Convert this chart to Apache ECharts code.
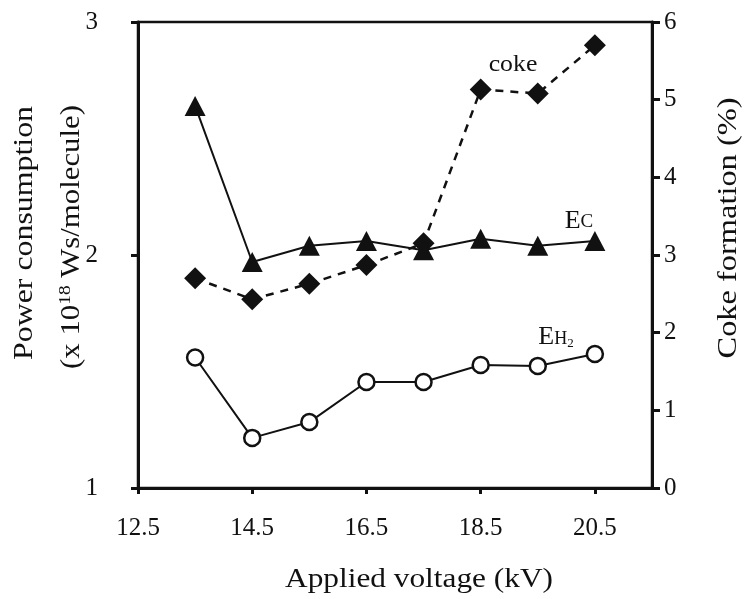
<!DOCTYPE html>
<html>
<head>
	<title>Power consumption vs applied voltage</title>
	<meta http-equiv="Content-Type" content="text/html;charset=UTF-8">
	<style>
		html, body { margin: 0; padding: 0; background: #fff; }
	</style>
</head>
<body>

	<div id="chart" style="width:744px;height:599px;"></div>

	<script type="text/javascript" src="https://cdn.jsdelivr.net/npm/echarts@6/dist/echarts.min.js"></script>

	<script type="text/javascript">

		// applied voltage (kV)
		var voltage = [13.5, 14.5, 15.5, 16.5, 17.5, 18.5, 19.5, 20.5]
		// power consumption, x 10^18 Ws/molecule (left axis)
		var ecValues = [2.64, 1.97, 2.04, 2.06, 2.02, 2.07, 2.04, 2.06]
		var eh2Values = [1.56, 1.215, 1.283, 1.455, 1.455, 1.528, 1.524, 1.575]
		// coke formation, % (right axis)
		var cokeValues = [2.70, 2.43, 2.63, 2.87, 3.15, 5.13, 5.08, 5.70]
		var xTicks = [12.5, 14.5, 16.5, 18.5, 20.5]

		var serif = 'Liberation Serif'
		var ink = '#111'

		function pairs(vals) {
			var out = []
			for (var i = 0; i < voltage.length; i++) {
				out.push([voltage[i], vals[i]])
			}
			return out
		}

		var chart = echarts.init(document.getElementById('chart'))

		var option = {
			backgroundColor: '#fff',
			animation: false,
			grid: {
				left: 138,
				right: 92,
				top: 22,
				bottom: 111,
				show: true,
				borderColor: ink,
				borderWidth: 2.5
			},
			xAxis: {
				type: 'value',
				min: 12.5,
				max: 21.5,
				splitLine: { show: false },
				axisLine: { lineStyle: { color: ink, width: 3 } },
				axisTick: { customValues: xTicks, length: 6, lineStyle: { color: ink, width: 3 } },
				axisLabel: {
					customValues: xTicks,
					margin: 28,
					color: ink,
					fontFamily: serif,
					fontSize: 25,
					formatter: function (v) { return v.toFixed(1) }
				}
			},
			yAxis: [{
				type: 'value',
				min: 1,
				max: 3,
				interval: 1,
				splitLine: { show: false },
				axisLine: { show: true, lineStyle: { color: ink, width: 3 } },
				axisTick: { show: true, length: 7, lineStyle: { color: ink, width: 3 } },
				axisLabel: { margin: 40, color: ink, fontFamily: serif, fontSize: 25 }
			}, {
				type: 'value',
				min: 0,
				max: 6,
				interval: 1,
				position: 'right',
				splitLine: { show: false },
				axisLine: { show: true, lineStyle: { color: ink, width: 3 } },
				axisTick: { show: true, length: 8, lineStyle: { color: ink, width: 3 } },
				axisLabel: { margin: 12, color: ink, fontFamily: serif, fontSize: 25 }
			}],
			series: [{
				name: 'coke',
				type: 'line',
				yAxisIndex: 1,
				data: pairs(cokeValues),
				symbol: 'diamond',
				symbolSize: 22,
				itemStyle: { color: ink },
				lineStyle: { color: ink, width: 2.5, type: [8, 7] },
				z: 3
			}, {
				name: 'Ec',
				type: 'line',
				data: pairs(ecValues),
				symbol: 'triangle',
				symbolSize: [21, 20],
				itemStyle: { color: ink },
				lineStyle: { color: ink, width: 2 },
				z: 4
			}, {
				name: 'EH2',
				type: 'line',
				data: pairs(eh2Values),
				symbol: 'circle',
				symbolSize: 16,
				itemStyle: { color: '#fff', borderColor: ink, borderWidth: 2.5 },
				lineStyle: { color: ink, width: 2 },
				z: 4
			}],
			graphic: [{
				type: 'text',
				x: 419, y: 580,
				scaleX: 1.16,
				style: {
					text: 'Applied voltage (kV)',
					fontFamily: serif,
					fontSize: 27,
					fill: ink,
					align: 'center',
					verticalAlign: 'middle'
				}
			}, {
				type: 'text',
				x: 25, y: 233,
				rotation: Math.PI / 2,
				scaleX: 1.18,
				style: {
					text: 'Power consumption',
					fontFamily: serif,
					fontSize: 27,
					fill: ink,
					align: 'center',
					verticalAlign: 'middle'
				}
			}, {
				type: 'text',
				x: 72, y: 237,
				rotation: Math.PI / 2,
				scaleX: 1.14,
				style: {
					text: '(x 10{sup|18} Ws/molecule)',
					fill: ink,
					align: 'center',
					verticalAlign: 'middle',
					fontFamily: serif,
					fontSize: 27,
					rich: {
						sup: { fontFamily: serif, fontSize: 17, fill: ink, padding: [0, 0, 12, 0] }
					}
				}
			}, {
				type: 'text',
				x: 729, y: 228,
				rotation: Math.PI / 2,
				scaleX: 1.2,
				style: {
					text: 'Coke formation (%)',
					fontFamily: serif,
					fontSize: 27,
					fill: ink,
					align: 'center',
					verticalAlign: 'middle'
				}
			}, {
				type: 'text',
				x: 513, y: 65,
				scaleX: 1.12,
				style: {
					text: 'coke',
					fontFamily: serif,
					fontSize: 23,
					fill: ink,
					align: 'center',
					verticalAlign: 'middle'
				}
			}, {
				type: 'text',
				x: 579, y: 221,
				style: {
					text: '{e|E}{c|C}',
					fill: ink,
					align: 'center',
					verticalAlign: 'middle',
					rich: {
						e: { fontFamily: serif, fontSize: 26, fill: ink, verticalAlign: 'bottom' },
						c: { fontFamily: serif, fontSize: 19, fill: ink, verticalAlign: 'bottom', padding: [0, 0, 2, 0] }
					}
				}
			}, {
				type: 'text',
				x: 556, y: 337,
				style: {
					text: '{e|E}{h|H}{n|2}',
					fill: ink,
					align: 'center',
					verticalAlign: 'middle',
					rich: {
						e: { fontFamily: serif, fontSize: 26, fill: ink, verticalAlign: 'bottom' },
						h: { fontFamily: serif, fontSize: 18, fill: ink, verticalAlign: 'bottom', padding: [0, 0, 2, 0] },
						n: { fontFamily: serif, fontSize: 13, fill: ink, verticalAlign: 'bottom' }
					}
				}
			}]
		}

		chart.setOption(option)

	</script>
</body>
</html>
